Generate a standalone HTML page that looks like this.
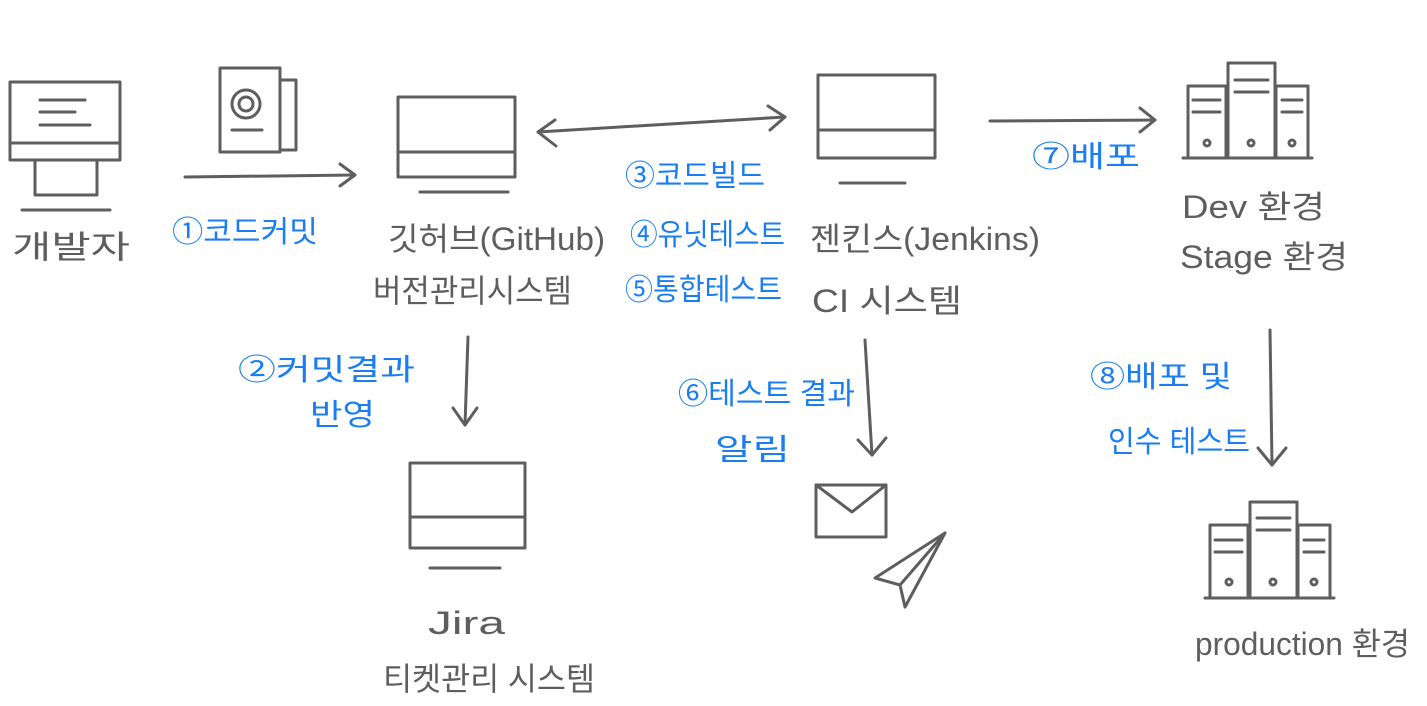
<!DOCTYPE html>
<html><head><meta charset="utf-8"><style>
html,body{margin:0;padding:0;background:#fff;}
svg{display:block}
text{font-family:"Liberation Sans","Noto Sans CJK KR","NanumGothic",sans-serif;}
.g{fill:#5e5e5e;font-size:32px}
.b{fill:#1a7ef2;font-size:30px}
.s{fill:none;stroke:#5e5e5e;stroke-width:3;stroke-linecap:round;stroke-linejoin:round}
</style></head><body>
<svg width="1427" height="706" viewBox="0 0 1427 706">
<g class="s">
<rect x="10" y="82" width="110" height="78"/><line x1="10" y1="143" x2="120" y2="143"/>
<line x1="40" y1="100" x2="85" y2="100"/><line x1="40" y1="112" x2="75" y2="112"/><line x1="40" y1="125" x2="90" y2="125"/>
<rect x="35" y="160" width="62" height="35"/><line x1="22" y1="210" x2="110" y2="210"/>
</g>
<g class="s">
<rect x="220" y="68" width="60" height="84"/><polyline points="280,80 296,80 296,150 280,150"/>
<circle cx="246" cy="104" r="14"/><circle cx="246" cy="104" r="7"/><line x1="232" y1="130" x2="262" y2="130"/>
</g>
<g class="s"><line x1="185" y1="177" x2="355" y2="175"/><polyline points="340,164 355,175 340,186"/></g>
<g class="s">
<rect x="398" y="97" width="117" height="80"/><line x1="398" y1="152" x2="515" y2="152"/><line x1="420" y1="192" x2="508" y2="192"/>
</g>
<g class="s"><line x1="538" y1="132" x2="785" y2="117"/><polyline points="555,120 538,132 556,146"/><polyline points="768,106 785,117 770,130"/></g>
<g class="s">
<rect x="818" y="75" width="117" height="83"/><line x1="818" y1="130" x2="935" y2="130"/><line x1="840" y1="183" x2="905" y2="183"/>
</g>
<g class="s"><line x1="990" y1="121" x2="1155" y2="120"/><polyline points="1140,108 1155,120 1140,132"/></g>
<g class="s">
<rect x="1188" y="86" width="38" height="72"/><rect x="1228" y="63" width="47" height="95"/><rect x="1276" y="86" width="32" height="72"/>
<line x1="1183" y1="158" x2="1312" y2="158"/>
<line x1="1193" y1="100" x2="1220" y2="100"/><line x1="1193" y1="112" x2="1220" y2="112"/><line x1="1235" y1="80" x2="1268" y2="80"/><line x1="1235" y1="92" x2="1268" y2="92"/><line x1="1282" y1="100" x2="1302" y2="100"/><line x1="1282" y1="112" x2="1302" y2="112"/>
<circle cx="1207" cy="143" r="3"/><circle cx="1251" cy="143" r="3"/><circle cx="1292" cy="143" r="3"/>
</g>
<g class="s"><line x1="468" y1="337" x2="465" y2="425"/><polyline points="453,408 465,425 477,408"/></g>
<g class="s">
<rect x="410" y="463" width="115" height="85"/><line x1="410" y1="517" x2="525" y2="517"/><line x1="430" y1="568" x2="500" y2="568"/>
</g>
<g class="s"><line x1="865" y1="340" x2="872" y2="455"/><polyline points="858,440 872,455 886,438"/></g>
<g class="s">
<rect x="816" y="485" width="70" height="52"/><polyline points="816,485 852,512 886,485"/>
<polygon points="875,578 945,533 905,607 900,585"/><line x1="900" y1="585" x2="945" y2="533"/>
</g>
<g class="s"><line x1="1270" y1="330" x2="1272" y2="465"/><polyline points="1258,448 1272,465 1286,448"/></g>
<g class="s">
<rect x="1210" y="525" width="38" height="73"/><rect x="1250" y="502" width="47" height="96"/><rect x="1298" y="525" width="32" height="73"/>
<line x1="1205" y1="598" x2="1334" y2="598"/>
<line x1="1215" y1="540" x2="1242" y2="540"/><line x1="1215" y1="552" x2="1242" y2="552"/><line x1="1257" y1="518" x2="1290" y2="518"/><line x1="1257" y1="530" x2="1290" y2="530"/><line x1="1304" y1="540" x2="1324" y2="540"/><line x1="1304" y1="552" x2="1324" y2="552"/>
<circle cx="1229" cy="582" r="3"/><circle cx="1273" cy="582" r="3"/><circle cx="1314" cy="582" r="3"/>
</g>
<text class="g" x="12" y="258" textLength="118" lengthAdjust="spacingAndGlyphs">개발자</text>
<text class="b" x="172" y="242" textLength="146" lengthAdjust="spacingAndGlyphs">①코드커밋</text>
<text class="g" x="388" y="250" textLength="217" lengthAdjust="spacingAndGlyphs">깃허브(GitHub)</text>
<text class="g" x="373" y="302" textLength="199" lengthAdjust="spacingAndGlyphs">버전관리시스템</text>
<text class="b" x="625" y="186" textLength="140" lengthAdjust="spacingAndGlyphs">③코드빌드</text>
<text class="b" x="630" y="245" textLength="155" lengthAdjust="spacingAndGlyphs">④유닛테스트</text>
<text class="b" x="625" y="300" textLength="157" lengthAdjust="spacingAndGlyphs">⑤통합테스트</text>
<text class="g" x="810" y="250" textLength="230" lengthAdjust="spacingAndGlyphs">젠킨스(Jenkins)</text>
<text class="g" x="812" y="312" textLength="150" lengthAdjust="spacingAndGlyphs">CI 시스템</text>
<text class="b" x="1032" y="167" textLength="108" lengthAdjust="spacingAndGlyphs">⑦배포</text>
<text class="g" x="1182" y="218" textLength="143" lengthAdjust="spacingAndGlyphs">Dev 환경</text>
<text class="g" x="1180" y="268" textLength="168" lengthAdjust="spacingAndGlyphs">Stage 환경</text>
<text class="b" x="238" y="380" textLength="177" lengthAdjust="spacingAndGlyphs">②커밋결과</text>
<text class="b" x="310" y="425" textLength="65" lengthAdjust="spacingAndGlyphs">반영</text>
<text class="b" x="678" y="404" textLength="177" lengthAdjust="spacingAndGlyphs">⑥테스트 결과</text>
<text class="b" x="715" y="460" textLength="75" lengthAdjust="spacingAndGlyphs">알림</text>
<text class="b" x="1090" y="387" textLength="142" lengthAdjust="spacingAndGlyphs">⑧배포 및</text>
<text class="b" x="1108" y="452" textLength="142" lengthAdjust="spacingAndGlyphs">인수 테스트</text>
<text class="g" x="428" y="634" textLength="77" lengthAdjust="spacingAndGlyphs">Jira</text>
<text class="g" x="383" y="690" textLength="212" lengthAdjust="spacingAndGlyphs">티켓관리 시스템</text>
<text class="g" x="1195" y="655" textLength="215" lengthAdjust="spacingAndGlyphs">production 환경</text>
</svg>
</body></html>
